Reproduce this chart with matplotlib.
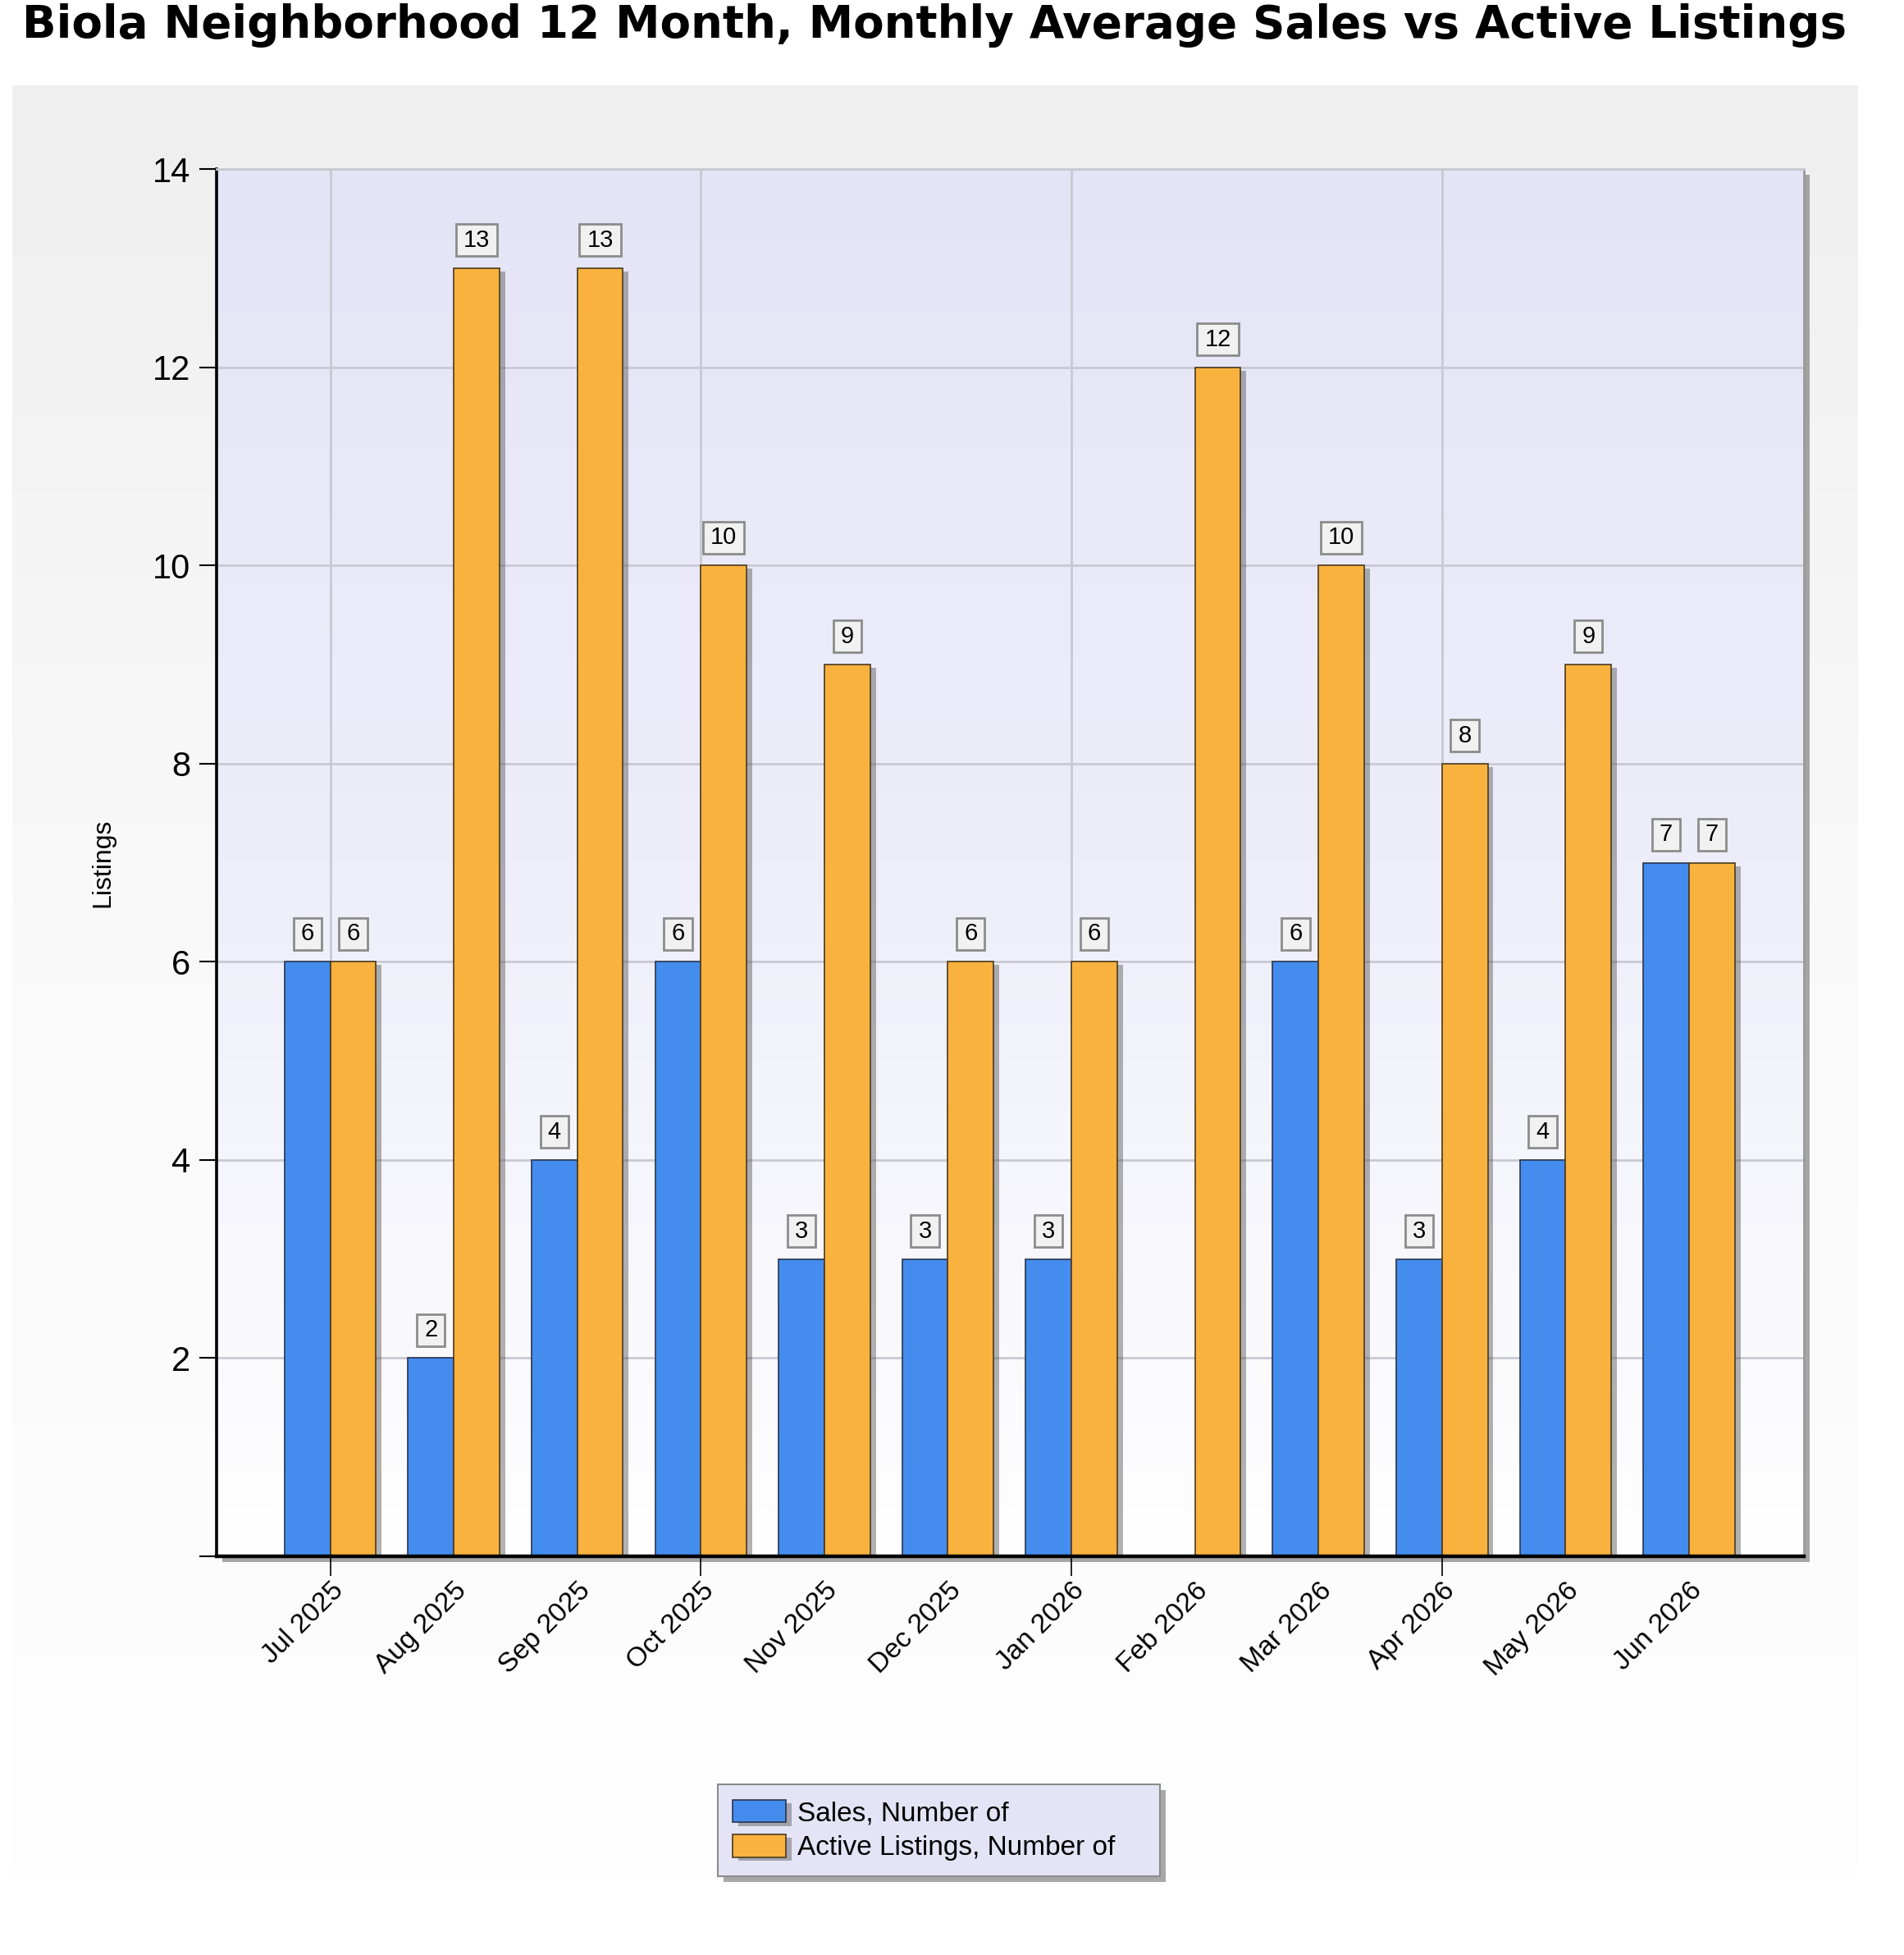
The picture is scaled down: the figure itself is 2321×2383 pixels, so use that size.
import numpy as np
import matplotlib
matplotlib.use("Agg")
import matplotlib.pyplot as plt
import matplotlib.patheffects as pe
from matplotlib.colors import LinearSegmentedColormap
from matplotlib.path import Path

# ---- data ----
months = ["Jul 2025", "Aug 2025", "Sep 2025", "Oct 2025", "Nov 2025", "Dec 2025",
          "Jan 2026", "Feb 2026", "Mar 2026", "Apr 2026", "May 2026", "Jun 2026"]
sales = [6, 2, 4, 6, 3, 3, 3, np.nan, 6, 3, 4, 7]
active = [6, 13, 13, 10, 9, 6, 6, 12, 10, 8, 9, 7]
y_ticks = [0, 2, 4, 6, 8, 10, 12, 14]
y_tick_labels = ["", "2", "4", "6", "8", "10", "12", "14"]
series_names = ["Sales, Number of", "Active Listings, Number of"]
title = "Biola Neighborhood 12 Month, Monthly Average Sales vs Active Listings"

BLUE = "#448DEE"
ORANGE = "#FAB23E"
SANS = ["Liberation Sans", "DejaVu Sans"]

W, H = 2321, 2383
fig = plt.figure(figsize=(W / 100, H / 100), dpi=100)
fig.patch.set_facecolor("white")

# background panel with gradient
bg = fig.add_axes([0, 0, 1, 1], zorder=-10)
bg.set_xlim(0, W)
bg.set_ylim(H, 0)
bg.axis("off")
panel_cmap = LinearSegmentedColormap.from_list("panel", ["#efefef", "#fafafa", "#fefefe"])
grad = np.linspace(0, 1, 256).reshape(-1, 1)
bg.imshow(grad, extent=(15, 2265, 2291, 104), aspect="auto", cmap=panel_cmap,
          origin="upper", interpolation="bilinear")

# title
fig.text(27 / W, 1 - 31 / H, title, fontsize=39.3, fontweight="bold",
         family=["DejaVu Sans"], ha="left", va="center", color="black")

ax = fig.add_axes([264 / W, 1 - 1897 / H, (2199 - 264) / W, (1897 - 206) / H])
ax.xaxis.remove_overlapping_locs = False
xmin, xmax = -0.92, 11.93
ymin, ymax = 0, 14

plot_cmap = LinearSegmentedColormap.from_list("plot", ["#e4e4f7", "#eeeefa", "#ffffff"])
ax.imshow(grad, extent=(xmin, xmax, ymin, ymax), aspect="auto", cmap=plot_cmap,
          origin="upper", interpolation="bilinear", zorder=0.1)

ax.patch.set_path_effects([pe.SimplePatchShadow(offset=(5, -5), shadow_rgbFace="#6e6e6e", alpha=0.6),
                           pe.Normal()])

x = np.arange(len(months))
bw = 0.37
shadow = [pe.SimplePatchShadow(offset=(5, -3), shadow_rgbFace="#555555", alpha=0.45), pe.Normal()]
b1 = ax.bar(x - bw / 2, sales, width=bw, color=BLUE, edgecolor="#2a3550", linewidth=1.2,
            zorder=2, label=series_names[0])
b2 = ax.bar(x + bw / 2, active, width=bw, color=ORANGE, edgecolor="#4a3a20", linewidth=1.2,
            zorder=2, label=series_names[1])
for p in list(b1) + list(b2):
    p.set_path_effects(shadow)


def label_box(x0, y0, width, height, mutation_size):
    padx = 0.31 * mutation_size
    pady = 0.19 * mutation_size
    x0, y0 = x0 - padx, y0 - pady
    x1, y1 = x0 + width + 2 * padx, y0 + height + 2 * pady
    return Path([(x0, y0), (x1, y0), (x1, y1), (x0, y1), (x0, y0)],
                [Path.MOVETO, Path.LINETO, Path.LINETO, Path.LINETO, Path.CLOSEPOLY])


# value labels
box = dict(boxstyle=label_box, fc="#f1f1f1", ec="#8c8c8c", lw=2.0)
for xs, vals in ((x - bw / 2, sales), (x + bw / 2, active)):
    for xi, v in zip(xs, vals):
        if np.isnan(v):
            continue
        ax.annotate(f"{int(v)}", (xi, v), xytext=(0, 24.5), textcoords="offset points",
                    ha="center", va="center", fontsize=21, family=SANS, bbox=box, zorder=5)

ax.set_xlim(xmin, xmax)
ax.set_ylim(ymin, ymax)

# grid
ax.set_axisbelow(True)
ax.set_yticks(y_ticks)
ax.set_yticklabels(y_tick_labels, fontsize=30, family=SANS)
ax.set_xticks(x)
ax.set_xticklabels(months, rotation=45, ha="right", va="top", rotation_mode="anchor",
                   fontsize=24, family=SANS)
ax.set_xticks(x[::3], minor=True)
ax.tick_params(axis="x", which="major", length=0, pad=19)
ax.tick_params(axis="x", which="minor", length=17, width=1.2, color="black")
ax.tick_params(axis="y", which="major", length=15, width=1.5, color="black", pad=8)
ax.grid(axis="y", which="major", color="#c9c9d3", linewidth=2, zorder=0.5)
ax.grid(axis="x", which="minor", color="#c9c9d3", linewidth=2, zorder=0.5)
ax.grid(axis="x", which="major", visible=False)

for s, c, lw in (("left", "black", 2.6), ("bottom", "black", 3.2),
                 ("top", "#c8c8d0", 2.0), ("right", "#9a9a9a", 2.0)):
    ax.spines[s].set_color(c)
    ax.spines[s].set_linewidth(lw)

ax.set_ylabel("Listings", fontsize=23, family=SANS)
ax.yaxis.set_label_coords((140 - 264) / (2199 - 264), 0.5)

leg = fig.legend(handles=[b1, b2], loc="center", mode="expand",
                 bbox_to_anchor=(875 / W, 1 - 2286 / H, 539 / W, 110 / H),
                 borderaxespad=0,
                 prop={"family": SANS, "size": 24}, frameon=True, fancybox=False,
                 handlelength=1.95, handleheight=0.9, handletextpad=0.4,
                 labelspacing=0.3, borderpad=0.55)
fr = leg.get_frame()
fr.set_facecolor("#e4e4f6")
fr.set_edgecolor("#8c8c8c")
fr.set_linewidth(1.5)
fr.set_alpha(1)
fr.set_path_effects([pe.SimplePatchShadow(offset=(5, -5), shadow_rgbFace="#6e6e6e", alpha=0.6),
                     pe.Normal()])

fig.savefig("out.png", dpi=100, facecolor="white")
